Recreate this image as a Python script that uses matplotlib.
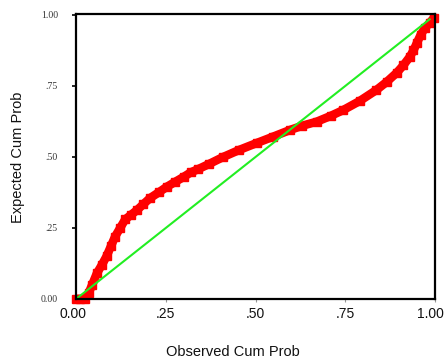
import matplotlib
matplotlib.use("Agg")
import matplotlib.pyplot as plt
from matplotlib.transforms import ScaledTranslation

# Observed vs expected cumulative probabilities
observed = [0.0, 0.012, 0.025, 0.035, 0.045, 0.058, 0.072, 0.085, 0.097, 0.109, 0.123,
            0.137, 0.152, 0.169, 0.187, 0.206, 0.23, 0.253, 0.277, 0.30, 0.32, 0.34,
            0.37, 0.41, 0.455, 0.503, 0.55, 0.596, 0.63, 0.67, 0.71, 0.744, 0.79,
            0.837, 0.865, 0.893, 0.912, 0.93, 0.94, 0.949, 0.96, 0.972, 0.985, 0.997]
expected = [0.0, 0.0, 0.0, 0.02, 0.05, 0.09, 0.12, 0.15, 0.185, 0.22, 0.25,
            0.28, 0.295, 0.312, 0.333, 0.355, 0.375, 0.395, 0.413, 0.43, 0.446, 0.457,
            0.475, 0.50, 0.525, 0.549, 0.572, 0.595, 0.61, 0.624, 0.645, 0.665, 0.697,
            0.736, 0.764, 0.796, 0.823, 0.853, 0.875, 0.90, 0.93, 0.954, 0.972, 0.99]
diag = [0.005, 0.985]

xticks = [0.0, 0.25, 0.5, 0.75, 1.0]
xticklabels = ["0.00", ".25", ".50", ".75", "1.00"]
yticks = [0.0, 0.25, 0.5, 0.75, 1.0]
yticklabels = ["0.00", ".25", ".50", ".75", "1.00"]

fig = plt.figure(figsize=(4.46, 3.64), dpi=100)
ax = fig.add_axes([76/446, 1-299/364, (435-76)/446, (299-14)/364])

ax.plot(observed, expected, color="#ff0000", lw=6.2, marker="s", ms=6.2,
        mec="#ff0000", mfc="#ff0000", solid_capstyle="butt", clip_on=False, zorder=2)
ax.plot(diag, diag, color="#22ee22", lw=1.5, zorder=3)

ax.set_xlim(0, 1.0)
ax.set_ylim(0, 1.0035)

for s in ax.spines.values():
    s.set_linewidth(1.6)
    s.set_color("black")
    s.set_zorder(4)

ax.set_xticks(xticks)
ax.set_xticklabels(xticklabels, family="Liberation Sans", fontsize=10, color="#111111")
ax.set_yticks(yticks)
ax.set_yticklabels(yticklabels, family="Liberation Serif", fontsize=7, color="#333333")
ax.tick_params(axis="x", length=2, width=0.8, color="#999999", pad=4)
ax.tick_params(axis="y", length=3, width=1.2, color="black", pad=10)

lbls = ax.get_xticklabels()
lbls[-1].set_transform(lbls[-1].get_transform() + ScaledTranslation(-5/100, 0, fig.dpi_scale_trans))
lbls[0].set_transform(lbls[0].get_transform() + ScaledTranslation(-3/100, 0, fig.dpi_scale_trans))

fig.text(18/446, 1-157/364, "Expected Cum Prob", rotation=90, ha="center", va="center",
         family="Liberation Sans", fontsize=10.5, color="#111111")
fig.text(233/446, 1-352/364, "Observed Cum Prob", ha="center", va="center",
         family="Liberation Sans", fontsize=10.5, color="#111111")

fig.savefig("out.png", dpi=100)
